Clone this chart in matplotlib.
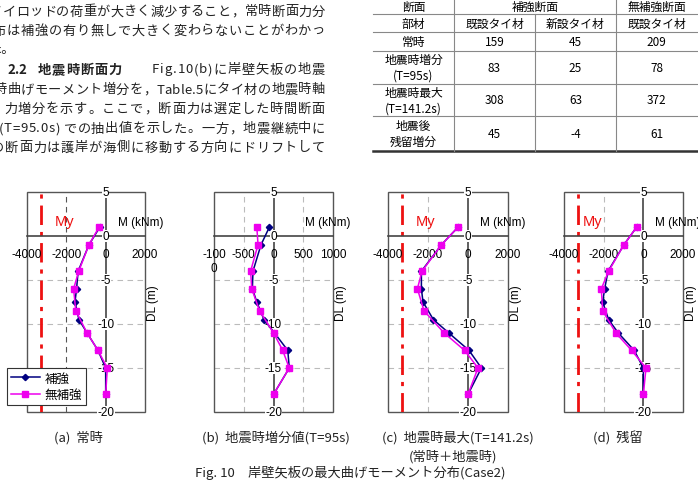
import matplotlib
matplotlib.use('Agg')
import matplotlib.pyplot as plt
from matplotlib.patches import Rectangle
from matplotlib.lines import Line2D

plt.rcParams['font.family'] = ['Noto Sans CJK JP', 'DejaVu Sans']
plt.rcParams['axes.unicode_minus'] = False

W, H = 698, 485
NUM_FONT = 'Liberation Sans'

# ---- データ ----
depth_hokyo = [1, -1, -4, -6, -7.5, -9.5, -11, -13, -15, -18]
depth_muhokyo = [1, -1, -4, -6, -8.5, -11, -13, -15, -18]

# (a) 常時
m_hokyo_a = [-300, -850, -1400, -1480, -1560, -1360, -950, -390, 0, 0]
m_muhokyo_a = [-340, -850, -1370, -1630, -1520, -950, -390, 85, 0]
# (b) 地震時増分値
m_hokyo_b = [-70, -210, -345, -355, -280, -160, 15, 240, 265, 0]
m_muhokyo_b = [-280, -260, -385, -365, -235, 0, 155, 265, 0]
# (c) 地震時最大
m_hokyo_c = [-500, -1330, -2330, -2330, -2250, -1730, -970, 50, 670, 0]
m_muhokyo_c = [-500, -1330, -2300, -2530, -2200, -1200, -170, 500, 0]
# (d) 残留
m_hokyo_d = [-340, -980, -1780, -1950, -2050, -1750, -1270, -460, 0, 0]
m_muhokyo_d = [-340, -980, -1750, -2120, -2050, -1390, -590, 135, 0]

my_value = -3300
y_ticks = [5, 0, -5, -10, -15, -20]
x_ticks_big = [-4000, -2000, 0, 2000]
x_ticks_b = [-1000, -500, 0, 500, 1000]
x_labels_b = ['-100\n0', '-500', '0', '500', '1000']

captions = ['(a)  常時', '(b)  地震時増分値(T=95s)', '(c)  地震時最大(T=141.2s)', '(d)  残留']

# 表 (Table.5)
tbl_header = ['断面', '補強断面', '無補強断面']
tbl_members = ['部材', '既設タイ材', '新設タイ材', '既設タイ材']
tbl_rows = ['常時', '地震時増分\n(T=95s)', '地震時最大\n(T=141.2s)', '地震後\n残留増分']
tbl_hokyo_kisetsu = [159, 83, 308, 45]
tbl_hokyo_shinsetsu = [45, 25, 63, -4]
tbl_muhokyo_kisetsu = [209, 78, 372, 61]

# 本文 (文字列, 左端, 右端, y)  左端が負のものは紙面の端で切れている
body_lines = [
    ('タイロッドの荷重が大きく減少すること，常時断面力分', -11, 325, 12),
    ('布は補強の有り無しで大きく変わらないことがわかっ', -7, 325, 31),
    ('Fig.10(b)に岸壁矢板の地震', 152, 325, 70),
    ('時曲げモーメント増分を，Table.5にタイ材の地震時軸', -6, 325, 90),
    ('力増分を示す。ここで，断面力は選定した時間断面', 4, 325, 109),
    ('(T=95.0s) での抽出値を示した。一方，地震継続中に', -1, 325, 129),
    ('の断面力は護岸が海側に移動する方向にドリフトして', -9, 325, 148),
]
heading_lines = [
    ('2.2', 7, 26, 70),
    ('地震時断面力', 38, 122, 70),
]

fig = plt.figure(figsize=(W / 100, H / 100), dpi=100)
renderer = fig.canvas.get_renderer()


def ftext(x, y, s, **kw):
    return fig.text(x / W, 1 - y / H, s, **kw)


def fline(x0, y0, x1, y1, **kw):
    fig.add_artist(Line2D([x0 / W, x1 / W], [1 - y0 / H, 1 - y1 / H], **kw))


def justify(s, x0, x1, y, **kw):
    # 均等割付: 1文字ずつ置いて左右端に合わせる
    probe = ftext(0, y, '', ha='left', va='center', **kw)
    widths = []
    for i in range(len(s) + 1):
        probe.set_text(s[:i])
        widths.append(probe.get_window_extent(renderer).width if i else 0)
    probe.remove()
    gap = (x1 - x0 - widths[-1]) / max(len(s) - 1, 1)
    for i, ch in enumerate(s):
        ftext(x0 + widths[i] + i * gap, y, ch, ha='left', va='center', **kw)


body_kw = dict(fontsize=9.5, color='#222222')
for s, x0, x1, yy in body_lines:
    justify(s, x0, x1, yy, **body_kw)
for s, x0, x1, yy in heading_lines:
    justify(s, x0, x1, yy, fontweight='bold', **body_kw)
ftext(-11, 50, 'た。', ha='left', va='center', **body_kw)

# ---- 表 ----
col_x = [373, 454, 535, 616, 697]
row_y = [0, 15, 33, 52, 85, 117, 152]
tcol = '#888888'
for yy in row_y[1:-1]:
    fline(col_x[0], yy, col_x[-1], yy, color=tcol, lw=0.8)
fline(col_x[0], row_y[-1], col_x[-1], row_y[-1], color='#333333', lw=1.8)
fline(col_x[1], 0, col_x[1], row_y[-1], color=tcol, lw=0.8)
fline(col_x[3], 0, col_x[3], row_y[-1], color=tcol, lw=0.8)
fline(col_x[2], row_y[1], col_x[2], row_y[-1], color=tcol, lw=0.8)

cx = [(col_x[i] + col_x[i + 1]) / 2 for i in range(4)]
tfs = 8.5
ftext(cx[0], 7, tbl_header[0], ha='center', va='center', fontsize=tfs)
ftext(col_x[2], 7, tbl_header[1], ha='center', va='center', fontsize=tfs)
ftext(cx[3], 7, tbl_header[2], ha='center', va='center', fontsize=tfs)
for i, s in enumerate(tbl_members):
    ftext(cx[i], 24, s, ha='center', va='center', fontsize=tfs)
for r, lab in enumerate(tbl_rows):
    yy = (row_y[r + 2] + row_y[r + 3]) / 2
    ftext(cx[0], yy, lab, ha='center', va='center', fontsize=tfs, linespacing=1.3)
    for i, v in enumerate([tbl_hokyo_kisetsu[r], tbl_hokyo_shinsetsu[r],
                           tbl_muhokyo_kisetsu[r]]):
        ftext(cx[i + 1], yy, str(v), ha='center', va='center', fontsize=tfs)

# ---- グラフ ----
panels = [
    ((27, 145), (-4000, 2000), x_ticks_big, [str(v) for v in x_ticks_big],
     m_hokyo_a, m_muhokyo_a, True, -2100),
    ((214, 333), (-1000, 1000), x_ticks_b, x_labels_b,
     m_hokyo_b, m_muhokyo_b, False, None),
    ((388, 508), (-4000, 2000), x_ticks_big, [str(v) for v in x_ticks_big],
     m_hokyo_c, m_muhokyo_c, True, -2100),
    ((564, 683), (-4000, 2000), x_ticks_big, [str(v) for v in x_ticks_big],
     m_hokyo_d, m_muhokyo_d, True, -2550),
]
top, bottom = 193, 413
axes = []
for (l, r), xlim, xt, xl, mh, mm, show_my, my_x in panels:
    ax = fig.add_axes([l / W, 1 - bottom / H, (r - l) / W, (bottom - top) / H])
    axes.append(ax)
    ax.set_xlim(xlim)
    ax.set_ylim(-20, 5)
    ax.spines['top'].set_visible(False)
    ax.spines['right'].set_visible(False)
    ax.spines['left'].set_position(('data', 0))
    ax.spines['bottom'].set_position(('data', 0))
    for sp in ('left', 'bottom'):
        ax.spines[sp].set_color('#444444')
        ax.spines[sp].set_linewidth(1.2)
        ax.spines[sp].set_zorder(1)
    ax.add_patch(Rectangle((0, 0), 1, 1, transform=ax.transAxes, fill=False,
                           ec='#555555', lw=1, clip_on=False, zorder=1))
    ax.set_yticks([])
    ax.set_xticks(xt)
    ax.set_xticklabels(xl, fontfamily=NUM_FONT, fontsize=8.5)
    ax.tick_params(axis='x', length=0, pad=9)

    # グリッド
    for g in [-5, -10, -15]:
        ax.axhline(g, color='#bbbbbb', lw=0.8, ls=(0, (5, 4)), zorder=0)
    for g in xt[1:-1]:
        if g != 0:
            gc = '#555555' if l < 100 else '#bbbbbb'
            ax.axvline(g, color=gc, lw=0.8, ls=(0, (5, 4)), zorder=0)

    for v in y_ticks:
        ax.text(0, v, str(v), ha='center', va='center', fontsize=8.5,
                fontfamily=NUM_FONT, clip_on=False, zorder=2,
                bbox=dict(fc='white', ec='none', pad=0.3))

    if show_my:
        ax.axvline(my_value, color='#ee1111', lw=2, ls=(0, (7, 2.5, 1.5, 2.5)), zorder=1)
        ax.text(my_x, 1.7, 'My', color='#ee1111', fontsize=10.5, ha='center',
                va='center', fontfamily=NUM_FONT)

    ax.plot(mh, depth_hokyo, color='#000080', lw=1.1, marker='D', markersize=3.2,
            label='補強', zorder=3, clip_on=False)
    ax.plot(mm, depth_muhokyo, color='#ee00ee', lw=1.1, marker='s', markersize=4.2,
            label='無補強', zorder=4, clip_on=False)

    ax.text(0.96, 0.865, 'M (kNm)', transform=ax.transAxes, ha='center',
            va='center', fontsize=8.5, fontfamily=NUM_FONT)
    ax.text(1.065, 0.5, 'DL (m)', transform=ax.transAxes, ha='center',
            va='center', rotation=90, fontsize=8.5, fontfamily=NUM_FONT)

leg = axes[0].legend(loc='lower left', bbox_to_anchor=(7 / W, 79 / H),
                     bbox_transform=fig.transFigure, fontsize=9, frameon=True,
                     fancybox=False, edgecolor='#333333', framealpha=1,
                     handlelength=2.3, borderpad=0.3, labelspacing=0.3,
                     handletextpad=0.4, borderaxespad=0)
leg.get_frame().set_linewidth(0.8)
leg.set_zorder(10)

# ---- キャプション ----
cap_x = [78, 276, 458, 618]
for x, s in zip(cap_x, captions):
    ftext(x, 438, s, ha='center', va='center', fontsize=9.5, color='#222222')
ftext(453, 457, '(常時＋地震時)', ha='center', va='center', fontsize=9.5, color='#222222')
ftext(350, 473, 'Fig. 10　岸壁矢板の最大曲げモーメント分布(Case2)', ha='center',
      va='center', fontsize=9.5, color='#222222')

fig.savefig('out.png', dpi=100)
